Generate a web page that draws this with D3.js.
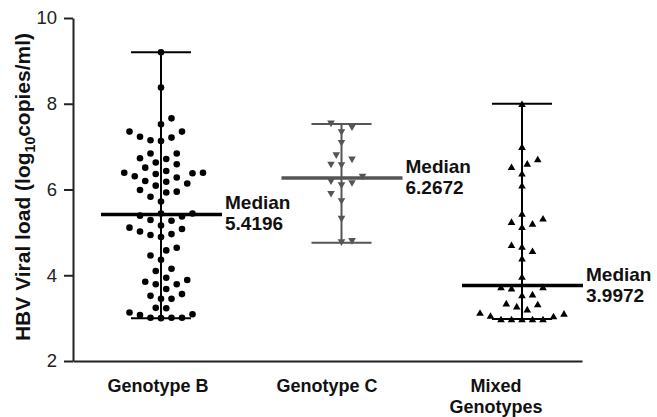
<!DOCTYPE html>
<html><head><meta charset="utf-8">
<script src="https://cdn.jsdelivr.net/npm/d3@7"></script>
<style>body{margin:0;background:#fff}text{font-family:"Liberation Sans",Arial,sans-serif}</style>
</head><body>
<svg id="c" width="657" height="417"></svg>
<script>
const categories = ["Genotype B", "Genotype C", "Mixed Genotypes"];
const genotypeB = [9.20, 8.38, 7.66, 7.52, 7.35, 7.35, 7.21, 7.23, 7.13, 7.15,
  6.84, 6.84, 6.71, 6.73, 6.59, 6.63, 6.51, 6.39, 6.38, 6.31, 6.28, 6.36, 6.39, 6.43,
  6.18, 6.20, 5.95, 5.99, 6.09, 6.14, 5.93, 5.83, 5.72,
  5.37, 5.44, 5.44, 5.39, 5.27, 5.29, 5.16, 5.08, 5.11, 4.96, 5.02, 4.89, 4.94,
  4.58, 4.64, 4.36, 4.46, 4.10, 4.15, 3.94, 3.89, 3.79, 3.79, 3.85, 3.68,
  3.56, 3.45, 3.45, 3.52, 3.24, 3.13, 3.07, 3.01, 3.00, 3.01, 3.01, 3.09, 3.23];
const genotypeC = [7.53, 7.44, 7.33, 7.08, 6.69, 6.79, 6.56, 6.57, 6.29, 6.14, 6.09,
  6.18, 5.89, 5.72, 5.31, 4.76, 4.79];
const mixedGenotypes = [8.00, 7.00, 6.61, 6.53, 6.71, 6.38, 6.10, 5.44, 5.25, 5.13, 5.21,
  5.33, 4.71, 4.67, 4.57, 4.40, 3.97, 3.73, 3.70, 3.73, 3.54, 3.56, 3.33, 3.28, 3.35,
  3.13, 3.05, 2.98, 2.98, 2.98, 2.98, 2.98, 3.06, 3.11, 3.21];
const medianLines = [5.4196, 6.2672, 3.76];
const medianLabels = ["5.4196", "6.2672", "3.9972"];
const yTicks = [2, 4, 6, 8, 10];

const seriesData = [genotypeB, genotypeC, mixedGenotypes];
const seriesColor = ["#000", "#555", "#000"];
const seriesShape = ["circle", "down", "up"];

const svg = d3.select("#c");
const y = d3.scaleLinear().domain([2, 10]).range([361, 18]);
const x = d3.scalePoint().domain(categories).range([161, 522]);
const xLabel = d3.scalePoint().domain(categories).range([158, 496]);
const xAxisScale = d3.scaleBand().domain(categories).range([73, 582]);

// axes
const ya = svg.append("g").attr("transform", "translate(73,0)")
  .call(d3.axisLeft(y).tickValues(yTicks).tickSize(9).tickSizeOuter(0).tickPadding(7));
ya.select(".domain").attr("stroke", "#222").attr("stroke-width", 2);
ya.selectAll(".tick line").attr("stroke", "#222").attr("stroke-width", 2);
ya.selectAll(".tick text").attr("font-size", 18.5).attr("fill", "#222")
  .style("font-family", "'Liberation Sans',Arial,sans-serif");

const xa = svg.append("g").attr("transform", "translate(0,361)")
  .call(d3.axisBottom(xAxisScale).tickSize(0).tickSizeOuter(0).tickFormat(""));
xa.select(".domain").attr("stroke", "#222").attr("stroke-width", 2);

// y label
const yl = svg.append("text").attr("transform", "translate(30,187) rotate(-90)")
  .attr("text-anchor", "middle").attr("font-size", 21).attr("font-weight", "bold").attr("fill", "#111");
yl.append("tspan").text("HBV Viral load (log");
yl.append("tspan").attr("font-size", 14).attr("dy", 5).text("10");
yl.append("tspan").attr("dy", -5).text("copies/ml)");

// category labels
categories.forEach(c => {
  const words = c === "Mixed Genotypes" ? ["Mixed", "Genotypes"] : [c];
  const t = svg.append("text").attr("text-anchor", "middle").attr("font-size", 18)
    .attr("font-weight", "bold").attr("fill", "#111");
  words.forEach((w, i) => t.append("tspan").attr("x", xLabel(c)).attr("y", 392 + i * 20.5).text(w));
});

function swarm(values, h, D) {
  const pts = values.map(v => ({ v, py: y(v) })).sort((a, b) => a.v - b.v);
  const placed = []; let lastSide = -1;
  for (const p of pts) {
    let chosen = null;
    for (let k = 0; k < 60 && chosen === null; k++) {
      const cands = k === 0 ? [0] : (lastSide < 0 ? [k, -k] : [-k, k]);
      for (const c of cands) {
        const dx = c * h;
        if (placed.every(q => Math.hypot(q.dx - dx, q.py - p.py) >= D)) { chosen = dx; break; }
      }
    }
    p.dx = chosen; if (chosen !== 0) lastSide = Math.sign(chosen);
    placed.push(p);
  }
  return placed;
}

function tri(dir, w, hgt) {
  return dir === "up"
    ? `M0,${-hgt / 2}L${w / 2},${hgt / 2}L${-w / 2},${hgt / 2}Z`
    : `M0,${hgt / 2}L${w / 2},${-hgt / 2}L${-w / 2},${-hgt / 2}Z`;
}

categories.forEach((c, i) => {
  const vals = seriesData[i];
  const cx = x(c);
  const col = seriesColor[i];
  const [mn, mx] = d3.extent(vals);
  const g = svg.append("g");
  g.append("line").attr("x1", cx).attr("x2", cx).attr("y1", y(mn)).attr("y2", y(mx))
    .attr("stroke", col).attr("stroke-width", 2);
  [mn, mx].forEach(v => g.append("line").attr("x1", cx - 30).attr("x2", cx + 30)
    .attr("y1", y(v)).attr("y2", y(v)).attr("stroke", col).attr("stroke-width", 2));
  g.append("line").attr("x1", cx - 60).attr("x2", cx + 61)
    .attr("y1", y(medianLines[i])).attr("y2", y(medianLines[i]))
    .attr("stroke", col).attr("stroke-width", 3.5);
  const pts = swarm(vals, 5.25, 10.3);
  if (seriesShape[i] === "circle") {
    g.selectAll("circle").data(pts).join("circle")
      .attr("cx", d => cx + d.dx).attr("cy", d => d.py).attr("r", 3.3).attr("fill", col);
  } else {
    g.selectAll("path.pt").data(pts).join("path").attr("class", "pt")
      .attr("transform", d => `translate(${cx + d.dx},${d.py})`)
      .attr("d", tri(seriesShape[i], 7.6, 6.6)).attr("fill", col);
  }
  const tx = cx + 64, my = y(medianLines[i]);
  const t = svg.append("text").attr("font-size", 19).attr("font-weight", "bold").attr("fill", "#111");
  t.append("tspan").attr("x", tx).attr("y", my - 5).text("Median");
  t.append("tspan").attr("x", tx).attr("y", my + 16).text(medianLabels[i]);
});
</script>
</body></html>
